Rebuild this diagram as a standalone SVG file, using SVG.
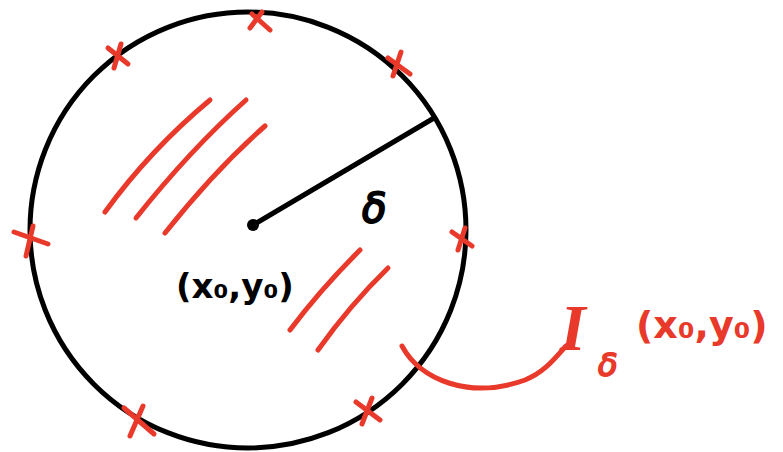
<svg xmlns="http://www.w3.org/2000/svg" width="783" height="452" viewBox="0 0 783 452">
<style>
.blk{fill:none;stroke:#000;stroke-width:5;stroke-linecap:round;stroke-linejoin:round}
.red{fill:none;stroke:#e8392a;stroke-width:5;stroke-linecap:round;stroke-linejoin:round}
.tb{font-family:"DejaVu Sans","Liberation Sans",sans-serif;font-weight:bold;fill:#000}
.tr{font-family:"DejaVu Sans","Liberation Sans",sans-serif;font-weight:bold;fill:#e8392a}
</style>
<rect width="783" height="452" fill="#fff"/>
<g id="disk">
<circle class="blk" cx="248" cy="230" r="218"/>
<path class="blk" d="M253 225 L434 118"/>
<circle cx="253" cy="225" r="6" fill="#000"/>
</g>
<g id="hatch">
<path class="red" d="M105 212 Q150 150 210 100"/>
<path class="red" d="M136 218 Q190 150 246 100"/>
<path class="red" d="M165 233 Q215 170 265 126"/>
<path class="red" d="M290 330 Q320 290 360 250"/>
<path class="red" d="M318 350 Q350 305 388 268"/>
</g>
<g id="boundary-marks">
<path class="red" d="M252 14 L270 30 M262 12 L250 28"/>
<path class="red" d="M108 48 L128 64 M121 44 L114 68"/>
<path class="red" d="M388 58 L410 74 M401 52 L393 76"/>
<path class="red" d="M14 232 L48 244 M33 226 L26 256"/>
<path class="red" d="M452 232 L472 246 M465 228 L458 250"/>
<path class="red" d="M124 408 L154 434 M143 406 L130 436"/>
<path class="red" d="M356 402 L380 420 M372 398 L362 424"/>
</g>
<g id="connectors">
<path class="red" d="M402 346 C420 380 470 400 525 380 C545 372 555 358 566 346"/>
</g>
<g id="labels">
<text class="tb" x="176" y="298" font-size="34">(x₀,y₀)</text>
<text x="362" y="222" font-size="40" style="font-family:'DejaVu Sans',sans-serif;font-style:italic;font-weight:normal;fill:#000;stroke:#000;stroke-width:2">δ</text>
<text x="560" y="350" font-size="66" style="font-family:'Liberation Serif',serif;font-style:italic;font-weight:bold;fill:#e8392a">I</text>
<text x="598" y="376" font-size="32" style="font-family:'DejaVu Sans',sans-serif;font-style:italic;font-weight:normal;fill:#e8392a;stroke:#e8392a;stroke-width:1.8">δ</text>
<text class="tr" x="636" y="338" font-size="38">(x₀,y₀)</text>
</g>
</svg>
